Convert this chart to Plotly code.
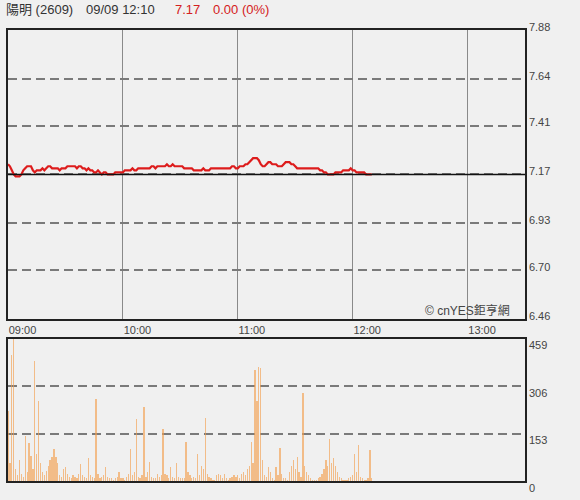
import pandas as pd
import plotly.graph_objects as go

# ---- data -------------------------------------------------------------
title_name = "陽明 (2609)"
stamp = "09/09 12:10"
last_price = "7.17"
change_txt = "0.00 (0%)"
prev_close = 7.17

price_ticks = [7.88, 7.64, 7.41, 7.17, 6.93, 6.70, 6.46]
price_tick_text = ["7.88", "7.64", "7.41", "7.17", "6.93", "6.70", "6.46"]
vol_ticks = [0, 153, 306, 459]
hour_ticks = ["2021-09-09 09:00", "2021-09-09 10:00", "2021-09-09 11:00",
              "2021-09-09 12:00", "2021-09-09 13:00"]
hour_text = ["09:00", "10:00", "11:00", "12:00", "13:00"]

price = [
    7.22, 7.21, 7.19, 7.17, 7.16, 7.16, 7.16, 7.17, 7.19, 7.20,
    7.21, 7.21, 7.21, 7.19, 7.18, 7.19, 7.19, 7.19, 7.20, 7.19,
    7.20, 7.21, 7.21, 7.20, 7.20, 7.20, 7.20, 7.19, 7.20, 7.20,
    7.20, 7.21, 7.21, 7.21, 7.21, 7.21, 7.20, 7.21, 7.21, 7.20,
    7.20, 7.19, 7.20, 7.19, 7.19, 7.18, 7.18, 7.19, 7.18, 7.17,
    7.18, 7.18, 7.17, 7.17, 7.17, 7.17, 7.18, 7.18, 7.18, 7.18,
    7.18, 7.19, 7.19, 7.19, 7.19, 7.20, 7.19, 7.19, 7.20, 7.20,
    7.20, 7.20, 7.20, 7.20, 7.20, 7.21, 7.21, 7.20, 7.21, 7.21,
    7.21, 7.21, 7.21, 7.22, 7.21, 7.21, 7.22, 7.21, 7.21, 7.21,
    7.21, 7.21, 7.20, 7.20, 7.20, 7.20, 7.20, 7.19, 7.19, 7.19,
    7.19, 7.19, 7.20, 7.19, 7.19, 7.19, 7.20, 7.20, 7.20, 7.20,
    7.20, 7.20, 7.20, 7.20, 7.20, 7.20, 7.20, 7.21, 7.21, 7.20,
    7.20, 7.21, 7.21, 7.21, 7.22, 7.22, 7.23, 7.24, 7.25, 7.25,
    7.25, 7.24, 7.22, 7.21, 7.21, 7.22, 7.23, 7.23, 7.22, 7.22,
    7.22, 7.21, 7.21, 7.21, 7.22, 7.23, 7.23, 7.23, 7.22, 7.22,
    7.21, 7.20, 7.20, 7.20, 7.20, 7.20, 7.20, 7.20, 7.20, 7.20,
    7.20, 7.20, 7.20, 7.19, 7.19, 7.18, 7.18, 7.17, 7.17, 7.17,
    7.17, 7.18, 7.18, 7.18, 7.18, 7.19, 7.19, 7.19, 7.19, 7.20,
    7.19, 7.19, 7.18, 7.18, 7.18, 7.18, 7.18, 7.17, 7.17, 7.17,
    7.17,
]

volume = [
    226, 60, 408, 459, 40, 20, 70, 25, 15, 147,
    30, 125, 83, 40, 389, 90, 258, 60, 30, 20,
    35, 50, 70, 80, 105, 80, 60, 20, 15, 40,
    45, 25, 15, 10, 20, 15, 10, 25, 57, 20,
    15, 10, 77, 20, 15, 10, 265, 25, 10, 15,
    20, 45, 15, 10, 10, 5, 10, 15, 30, 10,
    10, 5, 15, 25, 105, 20, 30, 200, 15, 10,
    20, 239, 15, 30, 64, 15, 10, 10, 25, 15,
    20, 169, 25, 20, 10, 48, 15, 10, 58, 15,
    10, 10, 10, 128, 30, 20, 10, 15, 10, 89,
    20, 50, 40, 204, 25, 15, 10, 5, 5, 20,
    25, 20, 10, 25, 10, 5, 10, 15, 20, 15,
    20, 10, 25, 30, 20, 40, 50, 128, 60, 360,
    258, 370, 364, 70, 20, 15, 45, 30, 10, 5,
    45, 20, 108, 25, 10, 10, 5, 30, 50, 70,
    40, 80, 30, 15, 284, 50, 30, 20, 10, 5,
    5, 5, 10, 15, 25, 40, 70, 50, 137, 60,
    74, 50, 30, 15, 10, 5, 5, 5, 10, 15,
    20, 89, 30, 118, 15, 10, 5, 5, 10, 102,
    10,
]

times = pd.date_range("2021-09-09 09:00", periods=len(price), freq="min")

# ---- figure -----------------------------------------------------------
BG = "#f0f0f0"
TICKFONT = dict(family="Liberation Sans, Arial, sans-serif", size=11, color="#444")
DASH = "9px,5px"

fig = go.Figure()

fig.add_trace(go.Scatter(
    x=times, y=price, mode="lines",
    line=dict(color="#dd1c1c", width=2.2),
    xaxis="x", yaxis="y", showlegend=False, hoverinfo="skip",
))

fig.add_trace(go.Bar(
    x=times, y=volume, width=40000,
    marker=dict(color="rgba(243,160,80,0.65)", line=dict(width=0)),
    xaxis="x2", yaxis="y2", showlegend=False, hoverinfo="skip",
))

# previous close line
fig.add_shape(type="line", xref="x domain", yref="y", x0=0, x1=1,
              y0=prev_close, y1=prev_close,
              line=dict(color="#111", width=1.5))

xrange = ["2021-09-09 09:00", "2021-09-09 13:30"]

fig.update_layout(
    width=580, height=500,
    margin=dict(l=6, r=55, t=30, b=14),
    paper_bgcolor=BG, plot_bgcolor=BG,
    bargap=0,
    xaxis=dict(
        domain=[0, 1], anchor="y", range=xrange, type="date",
        tickvals=hour_ticks, ticktext=hour_text,
        ticklabelposition="outside right", ticks="", tickfont=TICKFONT,
        ticklabelstandoff=0,
        showgrid=True, gridcolor="#8a8a8a", gridwidth=1,
        showline=True, linecolor="#222", linewidth=1.5, mirror=True,
        zeroline=False, fixedrange=True,
    ),
    yaxis=dict(
        domain=[0.3596, 1], anchor="x", side="right",
        range=[6.46, 7.88], tickvals=price_ticks, ticktext=price_tick_text,
        ticks="", tickfont=TICKFONT, ticklabelshift=-3, ticklabelstandoff=0,
        ticklabeloverflow="allow",
        showgrid=True, gridcolor="#7a7a7a", griddash=DASH, gridwidth=1.5,
        showline=True, linecolor="#222", linewidth=1.5, mirror=True,
        zeroline=False,
    ),
    xaxis2=dict(
        domain=[0, 1], anchor="y2", range=xrange, type="date",
        showticklabels=False, ticks="", showgrid=False,
        showline=True, linecolor="#222", linewidth=1.5, mirror=True,
        zeroline=False,
    ),
    yaxis2=dict(
        domain=[0, 0.3158], anchor="x2", side="right",
        range=[0, 459], tickvals=vol_ticks,
        ticks="", tickfont=TICKFONT, ticklabelshift=7, ticklabelstandoff=0,
        ticklabeloverflow="allow",
        showgrid=True, gridcolor="#7a7a7a", griddash=DASH, gridwidth=1.5,
        showline=True, linecolor="#222", linewidth=1.5, mirror=True,
        zeroline=False,
    ),
)

HEAD = "Liberation Sans, Arial, Noto Sans CJK TC, sans-serif"
header = [
    (title_name, -0.008, "#333"),
    (stamp, 0.147, "#333"),
    (last_price, 0.320, "#d42020"),
    (change_txt, 0.393, "#d42020"),
]
for txt, xp, col in header:
    fig.add_annotation(
        text=txt, xref="paper", yref="paper", x=xp, y=1, yshift=21,
        xanchor="left", yanchor="middle", showarrow=False,
        font=dict(family=HEAD, size=13, color=col),
    )

fig.add_annotation(
    text="© cnYES鉅亨網", xref="paper", yref="paper", x=0.803, y=0.377,
    xanchor="left", yanchor="middle", showarrow=False,
    font=dict(family="Liberation Sans, Noto Sans CJK TC, sans-serif", size=12, color="#444"),
)

# page body has a default margin; drop it so the chart sits at the window's corner
fig.write_html("out.html", config={"displayModeBar": False},
               post_script="document.body.style.margin='0';")
